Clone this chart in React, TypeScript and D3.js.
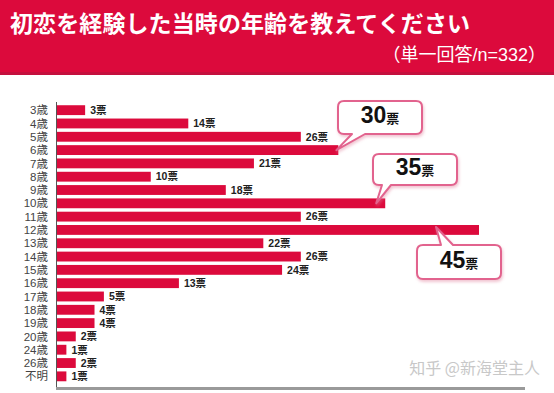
import * as d3 from 'd3';
import React, { useEffect, useRef } from 'react';

// ages (categories) and vote counts
const categories = [
  '3歳', '4歳', '5歳', '6歳', '7歳', '8歳', '9歳', '10歳', '11歳', '12歳', '13歳',
  '14歳', '15歳', '16歳', '17歳', '18歳', '19歳', '20歳', '24歳', '26歳', '不明'
];
const votes = [3, 14, 26, 30, 21, 10, 18, 35, 26, 45, 22, 26, 24, 13, 5, 4, 4, 2, 1, 2, 1];

// the three highlighted ages with speech bubbles
const calloutCats = ['6歳', '10歳', '12歳'];

const title = '初恋を経験した当時の年齢を教えてください';
const subtitle = '（単一回答/n=332）';
const watermark = '知乎 @新海堂主人';
const unit = '票';

const W = 554;
const H = 393;
const RED = '#dc0a3c';
const FONT = "'Liberation Sans', Arial, 'Noto Sans CJK JP', sans-serif";

// bubble boxes: [left, top, right, bottom], tail base x-range, tail side, tip offset from bar end
const bubbleLayout = [
  { box: [338, 101, 422, 134], base: [352, 365], side: 'bottom', tipDx: -2, tipDy: 0 },
  { box: [373, 154, 457, 185], base: [382, 391], side: 'bottom', tipDx: -9, tipDy: 0 },
  { box: [417, 245, 501, 279], base: [441, 453], side: 'top', tipDx: -43, tipDy: -3 }
];

const bubblePath = (
  b: number[],
  base: number[],
  side: string,
  tx: number,
  ty: number,
  r = 6
) => {
  const [x0, y0, x1, y1] = b;
  const p = d3.path();
  p.moveTo(x0 + r, y0);
  if (side === 'top') {
    p.lineTo(base[0], y0);
    p.lineTo(tx, ty);
    p.lineTo(base[1], y0);
  }
  p.lineTo(x1 - r, y0);
  p.quadraticCurveTo(x1, y0, x1, y0 + r);
  p.lineTo(x1, y1 - r);
  p.quadraticCurveTo(x1, y1, x1 - r, y1);
  if (side === 'bottom') {
    p.lineTo(base[1], y1);
    p.lineTo(tx, ty);
    p.lineTo(base[0], y1);
  }
  p.lineTo(x0 + r, y1);
  p.quadraticCurveTo(x0, y1, x0, y1 - r);
  p.lineTo(x0, y0 + r);
  p.quadraticCurveTo(x0, y0, x0 + r, y0);
  p.closePath();
  return p.toString();
};

export default function App() {
  const ref = useRef<SVGSVGElement>(null);

  useEffect(() => {
    const svg = d3.select(ref.current);
    svg.selectAll('*').remove();

    const x = d3.scaleLinear().domain([0, 45]).range([57, 479]);
    const y = d3
      .scaleBand<string>()
      .domain(categories)
      .range([103.5, 383])
      .paddingInner(0.26)
      .paddingOuter(0.13);

    const defs = svg.append('defs');
    const f = defs
      .append('filter')
      .attr('id', 'shadow')
      .attr('x', '-20%')
      .attr('y', '-20%')
      .attr('width', '140%')
      .attr('height', '150%');
    f.append('feDropShadow')
      .attr('dx', 1)
      .attr('dy', 2)
      .attr('stdDeviation', 1.5)
      .attr('flood-color', '#e07a98')
      .attr('flood-opacity', 0.45);

    // header band
    svg.append('rect').attr('width', W).attr('height', 75).attr('fill', RED);
    svg
      .append('rect')
      .attr('y', 72)
      .attr('width', W)
      .attr('height', 3)
      .attr('fill', '#c4103e');
    svg
      .append('text')
      .attr('x', 10)
      .attr('y', 32)
      .attr('fill', '#fff')
      .attr('font-size', 23)
      .attr('letter-spacing', 0.1)
      .attr('font-weight', 'bold')
      .attr('font-family', FONT)
      .text(title);
    svg
      .append('text')
      .attr('x', 546)
      .attr('y', 61)
      .attr('text-anchor', 'end')
      .attr('fill', '#fff')
      .attr('font-size', 18)
      .attr('font-family', FONT)
      .text(subtitle);

    // bars
    const rows = svg
      .append('g')
      .selectAll('g')
      .data(categories)
      .join('g')
      .attr('transform', (d) => `translate(0,${y(d)})`);

    rows
      .append('rect')
      .attr('x', x(0))
      .attr('width', (_d, i) => x(votes[i]) - x(0))
      .attr('height', y.bandwidth())
      .attr('fill', RED);

    rows
      .append('text')
      .attr('x', 48)
      .attr('y', y.bandwidth() / 2)
      .attr('dy', '0.36em')
      .attr('text-anchor', 'end')
      .attr('font-size', 11.5)
      .attr('fill', '#444')
      .attr('font-family', FONT)
      .text((d) => d);

    rows
      .filter((d) => !calloutCats.includes(d))
      .append('text')
      .attr('x', (d) => x(votes[categories.indexOf(d)]) + 5)
      .attr('y', y.bandwidth() / 2)
      .attr('dy', '0.36em')
      .attr('font-size', 10.5)
      .attr('font-weight', 'bold')
      .attr('fill', '#222')
      .attr('font-family', FONT)
      .text((d) => `${votes[categories.indexOf(d)]}${unit}`);

    // axes lines
    svg
      .append('line')
      .attr('x1', x(0) - 0.5)
      .attr('x2', x(0) - 0.5)
      .attr('y1', 102)
      .attr('y2', 388)
      .attr('stroke', '#555')
      .attr('stroke-width', 1);
    svg
      .append('rect')
      .attr('x', x(0) - 1)
      .attr('y', 387)
      .attr('width', 526 - x(0))
      .attr('height', 3)
      .attr('fill', '#9a9a9a');

    // speech bubbles
    calloutCats.forEach((c, k) => {
      const v = votes[categories.indexOf(c)];
      const L = bubbleLayout[k];
      const tx = x(v) + L.tipDx;
      const ty = (y(c) ?? 0) + y.bandwidth() / 2 + L.tipDy;
      svg
        .append('path')
        .attr('d', bubblePath(L.box, L.base, L.side, tx, ty))
        .attr('fill', '#fff')
        .attr('stroke', '#e2648e')
        .attr('stroke-width', 2)
        .attr('stroke-linejoin', 'round')
        .attr('filter', 'url(#shadow)');
      const t = svg
        .append('text')
        .attr('x', (L.box[0] + L.box[2]) / 2)
        .attr('y', (L.box[1] + L.box[3]) / 2)
        .attr('dy', '0.36em')
        .attr('text-anchor', 'middle')
        .attr('font-weight', 'bold')
        .attr('fill', '#111')
        .attr('font-family', FONT);
      t.append('tspan').attr('font-size', 23).text(v);
      t.append('tspan').attr('font-size', 13).text(unit);
    });

    // watermark
    svg
      .append('text')
      .attr('x', 540)
      .attr('y', 374)
      .attr('text-anchor', 'end')
      .attr('font-size', 16)
      .attr('fill', '#c8c8c8')
      .attr('font-family', "'Noto Sans CJK SC', sans-serif")
      .text(watermark);
  }, []);

  return (
    <>
      <style>{'body{margin:0}'}</style>
      <svg ref={ref} width={W} height={H} style={{ display: 'block', background: '#fff' }} />
    </>
  );
}
